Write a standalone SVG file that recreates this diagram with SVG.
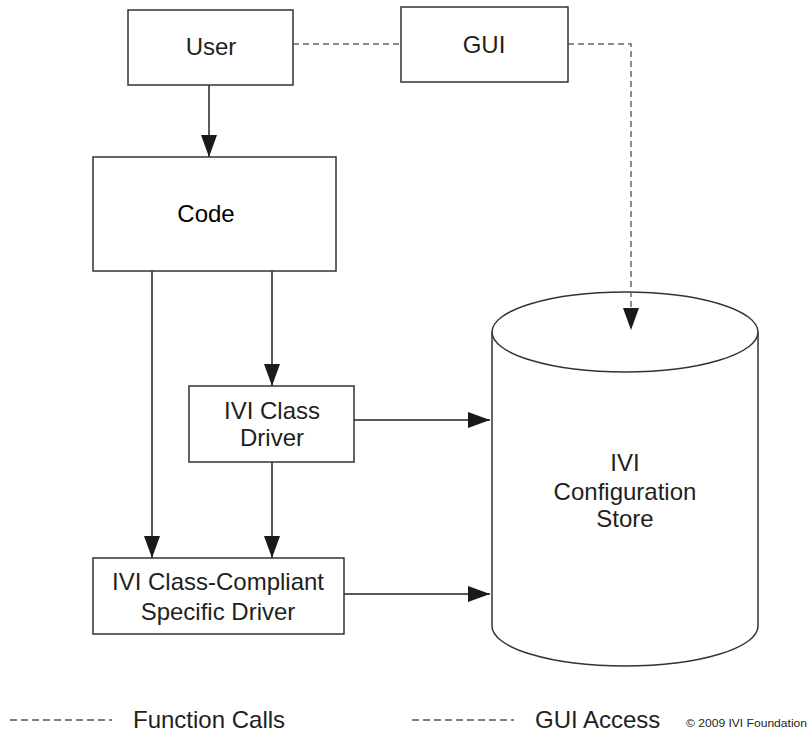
<svg xmlns="http://www.w3.org/2000/svg" width="809" height="737" viewBox="0 0 809 737">
<defs>
<marker id="ah" viewBox="0 0 22 16" refX="22" refY="8" markerWidth="22" markerHeight="16" markerUnits="userSpaceOnUse" orient="auto">
<path d="M0,0 L22,8 L0,16 Z" fill="#1a1a1a"/>
</marker>
</defs>
<style>
.box{fill:#fff;stroke:#333;stroke-width:1.5}
.t{font-family:"Liberation Sans",Arial,sans-serif;font-size:24px;fill:#231f20;text-anchor:middle}
.line{fill:none;stroke:#222;stroke-width:1.5}
.dash{fill:none;stroke:#666;stroke-width:1.5;stroke-dasharray:6,4}
</style>
<rect width="809" height="737" fill="#fff"/>
<g id="store">
<path class="box" d="M492,332 V626 A133,40 0 0 0 758,626 V332"/>
<ellipse class="box" cx="625" cy="332" rx="133" ry="40"/>
<text class="t" x="625" y="471">IVI</text>
<text class="t" x="625" y="500">Configuration</text>
<text class="t" x="625" y="527">Store</text>
</g>
<g id="connectors">
<path class="dash" d="M293,44 H401"/>
<path class="dash" d="M568,44 H631 V330" marker-end="url(#ah)"/>
<path class="line" d="M209,85 V157" marker-end="url(#ah)"/>
<path class="line" d="M272,271 V386" marker-end="url(#ah)"/>
<path class="line" d="M152,271 V558" marker-end="url(#ah)"/>
<path class="line" d="M272,462 V558" marker-end="url(#ah)"/>
<path class="line" d="M354,420 H490" marker-end="url(#ah)"/>
<path class="line" d="M344,594 H490" marker-end="url(#ah)"/>
</g>
<g id="user">
<rect class="box" x="128" y="10" width="165" height="75"/>
<text class="t" x="211" y="55">User</text>
</g>
<g id="gui">
<rect class="box" x="401" y="7" width="167" height="75"/>
<text class="t" x="484" y="53">GUI</text>
</g>
<g id="code">
<rect class="box" x="93" y="157" width="243" height="114"/>
<text class="t" x="206" y="222" style="fill:#000">Code</text>
</g>
<g id="classdriver">
<rect class="box" x="189" y="386" width="165" height="76"/>
<text class="t" x="272" y="419">IVI Class</text>
<text class="t" x="272" y="446">Driver</text>
</g>
<g id="specific">
<rect class="box" x="93" y="558" width="251" height="76"/>
<text class="t" x="218" y="590">IVI Class-Compliant</text>
<text class="t" x="218" y="620">Specific Driver</text>
</g>
<g id="legend">
<path class="dash" d="M10,720 H112" style="stroke:#555;stroke-dasharray:7,4"/>
<text class="t" x="133" y="728" style="text-anchor:start">Function Calls</text>
<path class="dash" d="M412,720 H514" style="stroke:#555;stroke-dasharray:7,4"/>
<text class="t" x="535" y="728" style="text-anchor:start">GUI Access</text>
<text x="686" y="727" textLength="121" lengthAdjust="spacingAndGlyphs" style="font-family:'Liberation Sans',Arial,sans-serif;font-size:11.5px;fill:#231f20">© 2009 IVI Foundation</text>
</g>
</svg>
